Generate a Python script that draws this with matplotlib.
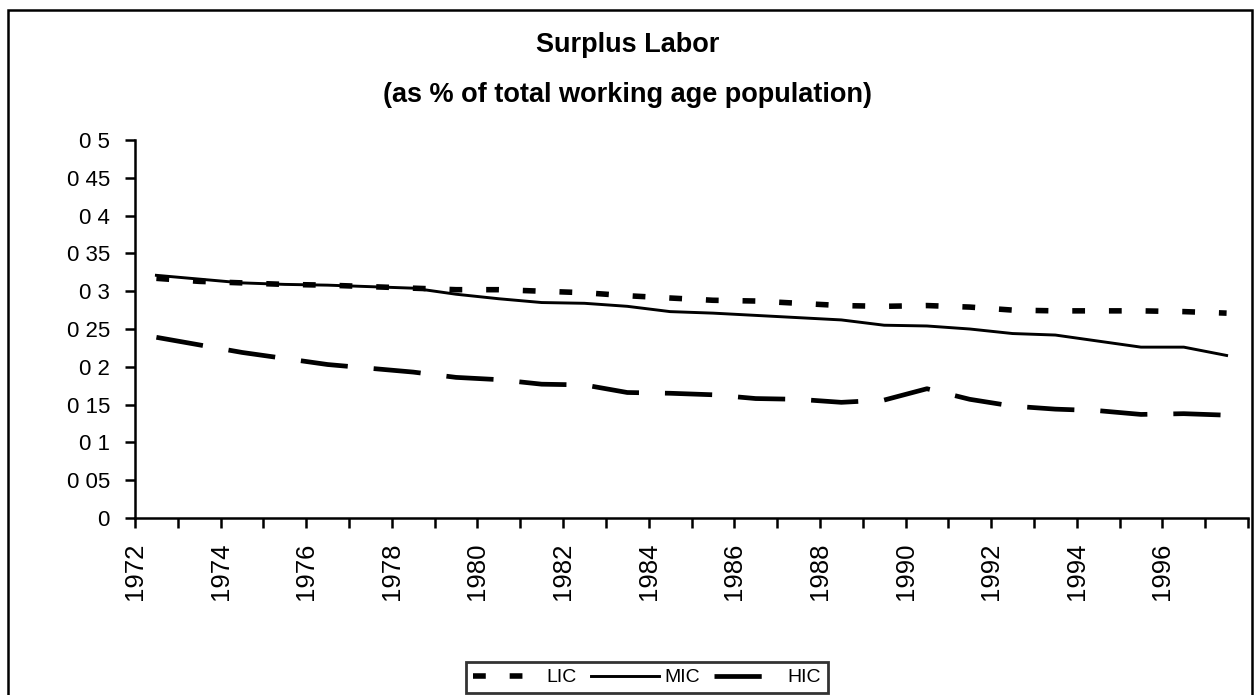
#!/usr/bin/env python3
"""Surplus Labor as share of working age population, LIC / MIC / HIC."""

import matplotlib
matplotlib.use("Agg")
import matplotlib.pyplot as plt
from matplotlib.patches import Rectangle
import numpy as np

plt.rcParams["font.family"] = ["Liberation Sans", "DejaVu Sans"]

# values (one point per year)
years = list(range(1972, 1998))
lic = [0.317, 0.313, 0.311, 0.309, 0.308, 0.306, 0.304, 0.302, 0.302, 0.300,
       0.298, 0.294, 0.291, 0.288, 0.287, 0.284, 0.281, 0.280, 0.281, 0.279,
       0.275, 0.274, 0.274, 0.274, 0.273, 0.271]
mic = [0.321, 0.316, 0.311, 0.309, 0.308, 0.306, 0.304, 0.296, 0.290, 0.285,
       0.284, 0.280, 0.273, 0.271, 0.268, 0.265, 0.262, 0.255, 0.254, 0.250,
       0.244, 0.242, 0.234, 0.226, 0.226, 0.215]
hic = [0.239, 0.229, 0.219, 0.211, 0.203, 0.198, 0.193, 0.186, 0.183, 0.177,
       0.176, 0.166, 0.165, 0.163, 0.158, 0.157, 0.153, 0.156, 0.171, 0.157,
       0.148, 0.144, 0.142, 0.137, 0.138, 0.136]

y_ticks = [0, 0.05, 0.1, 0.15, 0.2, 0.25, 0.3, 0.35, 0.4, 0.45, 0.5]
# decimal points are lost in the scan
y_tick_labels = ["0", "0 05", "0 1", "0 15", "0 2", "0 25", "0 3", "0 35",
                 "0 4", "0 45", "0 5"]
x_tick_years = list(range(1972, 1999))
x_tick_labels = [str(y) if y % 2 == 0 and y < 1998 else "" for y in x_tick_years]

W, H = 1255, 695
fig = plt.figure(figsize=(W / 100, H / 100), dpi=100)
ax = fig.add_axes([135 / W, 1 - 518 / H, (1248 - 135) / W, (518 - 140) / H])

x = np.array(years) + 0.5  # yearly values sit mid-category
l_lic, = ax.plot(x, lic, color="black", linewidth=4, dashes=(2.3, 4.3),
                 dash_capstyle="butt", label="LIC")
l_mic, = ax.plot(x, mic, color="black", linewidth=2.1, label="MIC")
l_hic, = ax.plot(x, hic, color="black", linewidth=3.4, dashes=(10, 5.5),
                 dash_capstyle="butt", label="HIC")

ax.set_xlim(1972, 1998)
ax.set_ylim(0, 0.5)
ax.set_yticks(y_ticks)
ax.set_yticklabels(y_tick_labels, fontsize=16)
ax.set_xticks(x_tick_years)
ax.set_xticklabels(x_tick_labels, rotation=90, fontsize=18.5)

for side in ("top", "right"):
    ax.spines[side].set_visible(False)
for side in ("left", "bottom"):
    ax.spines[side].set_linewidth(1.8)
ax.tick_params(axis="both", direction="out", length=7, width=1.8)
ax.tick_params(axis="y", pad=11)
ax.tick_params(axis="x", pad=11)

fig.text(0.5, 1 - 45 / H, "Surplus Labor", ha="center", va="center",
         fontsize=19.5, fontweight="bold")
fig.text(0.5, 1 - 95 / H, "(as % of total working age population)",
         ha="center", va="center", fontsize=19.5, fontweight="bold")

leg = fig.legend(handles=[l_lic, l_mic, l_hic], loc="upper center",
                 bbox_to_anchor=(647 / W, 1 - 662 / H), ncol=3, fontsize=14,
                 frameon=True, fancybox=False, handlelength=3.5,
                 columnspacing=0.7, handletextpad=0.3, borderpad=0.35,
                 borderaxespad=0)
leg.get_frame().set_edgecolor("black")
leg.get_frame().set_linewidth(2)

# outer frame of the scanned figure
fig.patches.append(Rectangle((8 / W, -0.05), (1252 - 8) / W, 1.05 - 10 / H,
                             transform=fig.transFigure, fill=False,
                             edgecolor="black", linewidth=1.8))

fig.savefig("out.png", dpi=100)
